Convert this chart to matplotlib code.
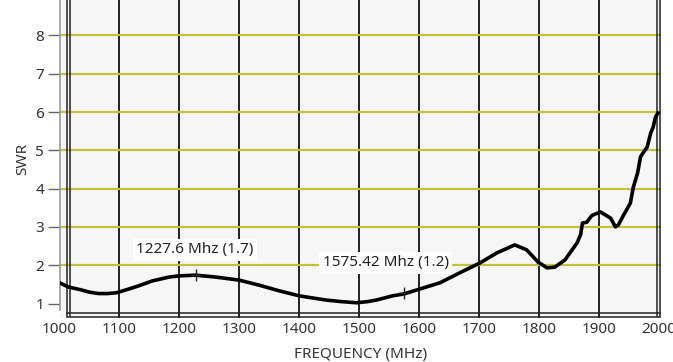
import matplotlib.pyplot as plt

# SWR sweep
freq = [1000, 1015, 1035, 1049, 1065, 1080, 1095, 1110, 1132, 1155, 1183, 1199,
        1227, 1261, 1300, 1333, 1367, 1400, 1445, 1470, 1496, 1515, 1529, 1556,
        1575, 1606, 1635, 1668, 1702, 1730, 1760, 1780, 1799, 1814, 1827, 1844,
        1864, 1870, 1873, 1880, 1889, 1903, 1920, 1928, 1933, 1940, 1953, 1958,
        1965, 1970, 1975, 1981, 1987, 1991, 1995, 1999]
swr = [1.54, 1.43, 1.36, 1.30, 1.26, 1.26, 1.28, 1.35, 1.46, 1.59, 1.69, 1.72,
       1.74, 1.69, 1.61, 1.48, 1.33, 1.20, 1.09, 1.05, 1.02, 1.05, 1.09, 1.20,
       1.25, 1.40, 1.54, 1.80, 2.06, 2.32, 2.53, 2.40, 2.08, 1.93, 1.95, 2.14,
       2.58, 2.80, 3.10, 3.12, 3.30, 3.39, 3.23, 3.00, 3.05, 3.26, 3.62, 4.04,
       4.40, 4.83, 4.95, 5.08, 5.45, 5.60, 5.87, 5.97]

markers_f = [1227.6, 1575.42]
markers_v = [1.74, 1.27]
marker_labels = ["1227.6 Mhz (1.7)", "1575.42 Mhz (1.2)"]
label_pos = [(1226, 2.40), (1545, 2.06)]

xticks = list(range(1000, 2001, 100))
yticks = list(range(1, 9))

plt.rcParams['font.family'] = ['Noto Sans', 'DejaVu Sans']

W, H = 673, 362
fig = plt.figure(figsize=(W / 100, H / 100), dpi=100)
ax_l, ax_r, ax_b, ax_t = 59.5, 661, 318, 0
ax = fig.add_axes([ax_l / W, 1 - ax_b / H, (ax_r - ax_l) / W, (ax_b - ax_t) / H])

px_per_x = 0.599
px_per_y = 38.3
ax.set_xlim(1000, 1000 + (ax_r - ax_l) / px_per_x)
ax.set_ylim(1 - (ax_b - 303.5) / px_per_y, 1 + (303.5 - ax_t) / px_per_y)
ax.set_facecolor('#f7f6f6')

for s in ax.spines.values():
    s.set_visible(False)

# grid
for x in xticks[1:-1]:
    ax.axvline(x, color='#111111', lw=1.3, zorder=1)
for y in yticks[1:]:
    ax.axhline(y, color='#c4c23c', lw=1.6, zorder=1)

# double frame (LabVIEW style) and gray scale line
fx = lambda p: (p - ax_l) / (ax_r - ax_l)
fy = lambda p: (ax_b - p) / (ax_b - ax_t)
for x in (67, 69.5, 657, 660):
    ax.plot([fx(x), fx(x)], [fy(316), 1], color='#222222', lw=1.1,
            transform=ax.transAxes, clip_on=False, zorder=3)
for y in (313, 317):
    ax.plot([fx(67), fx(660)], [fy(y), fy(y)], color='#222222', lw=1.1,
            transform=ax.transAxes, clip_on=False, zorder=3)
ax.plot([0, 0], [fy(310), 1], color='#9a9a9a', lw=1.2,
        transform=ax.transAxes, clip_on=False, zorder=3)

ax.plot(freq, swr, color='black', lw=2.6, zorder=4)
ax.plot(markers_f, markers_v, '+', color='#222222', ms=9, mew=1.0, zorder=5)

for (lx, ly), txt in zip(label_pos, marker_labels):
    ax.text(lx, ly, txt, ha='center', va='center', fontsize=11, color='#222222',
            zorder=6, bbox=dict(facecolor='white', edgecolor='none', pad=2.5))

ax.set_xticks(xticks)
ax.set_xticklabels([str(v) for v in xticks], fontsize=11, color='#333333')
ax.set_yticks(yticks)
ax.set_yticklabels([str(v) for v in yticks], fontsize=11, color='#333333')
ax.tick_params(axis='x', length=0, pad=3)
ax.tick_params(axis='y', length=9, width=1, color='#666666', pad=2)

ax.set_xlabel('FREQUENCY (MHz)', fontsize=11, color='#333333', labelpad=7)
ax.set_ylabel('SWR', fontsize=11, color='#333333', labelpad=4)

fig.savefig('out.png', dpi=100, facecolor='white')
